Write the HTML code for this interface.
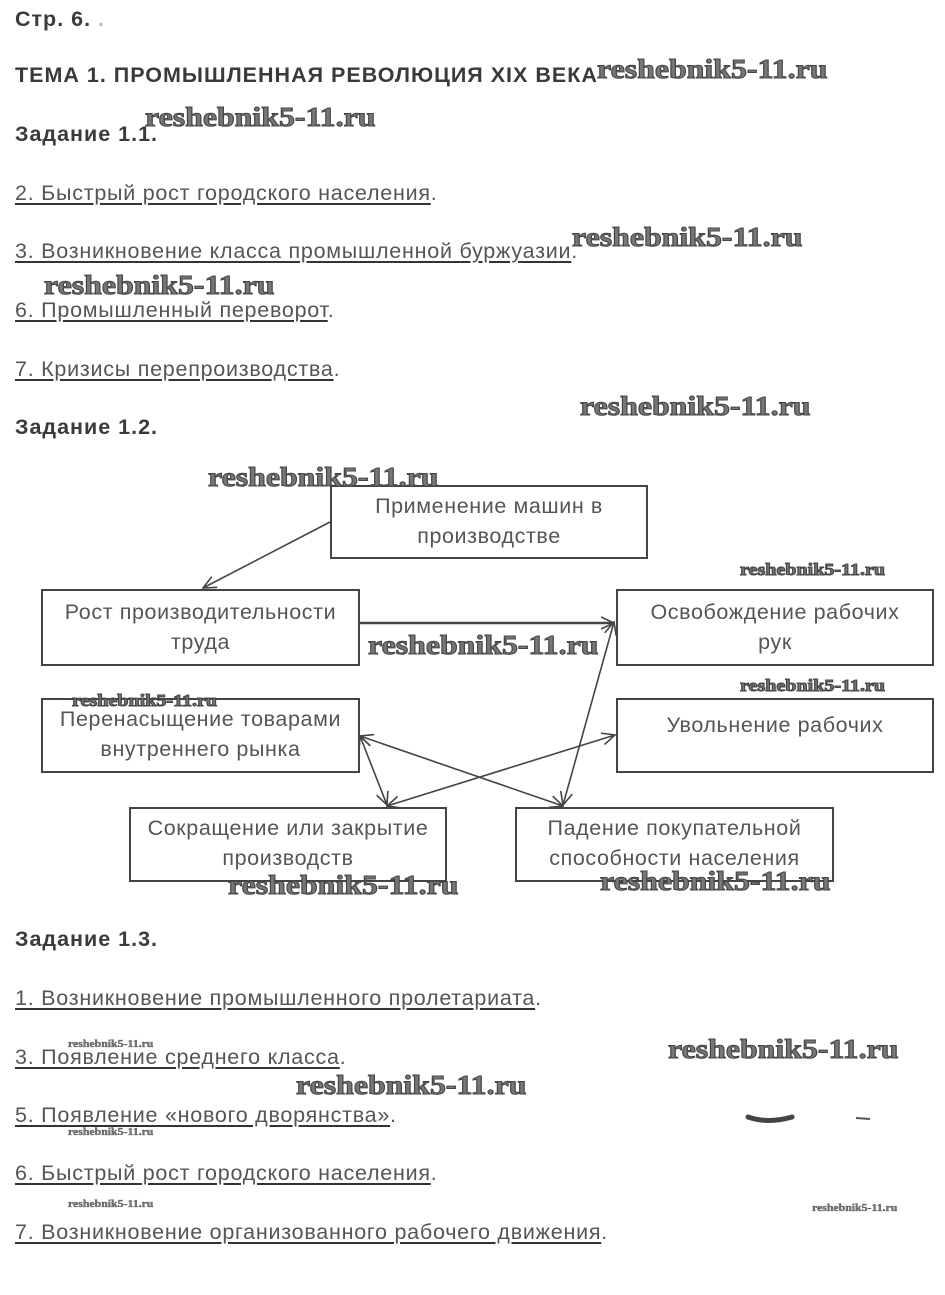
<!DOCTYPE html>
<html><head><meta charset="utf-8"><style>
html,body{margin:0;padding:0;background:#fff;width:945px;height:1295px;overflow:hidden;position:relative;font-family:"Liberation Sans",sans-serif}
.t{position:absolute;white-space:nowrap;line-height:24px}
.h{font-size:21.5px;font-weight:bold;color:#3a3a3a;letter-spacing:1px}
.l{font-size:21.5px;color:#555;letter-spacing:0.75px}
.l span{text-decoration:underline;text-decoration-color:#333;text-underline-offset:3px}
.w{position:absolute;white-space:nowrap;font-family:"Liberation Serif",serif;font-weight:bold;color:#777;-webkit-text-stroke:1px #444;line-height:1;transform:scaleX(1.18);transform-origin:0 0}
.w1{font-size:27px}
.w2{font-size:17px}
.w3{font-size:10px;-webkit-text-stroke:0.3px #444}
.box{position:absolute;border:2px solid #444;box-sizing:border-box;text-align:center;font-size:21.5px;letter-spacing:0.6px;color:#555;line-height:30px;padding-top:6px;background:#fff;white-space:nowrap}
</style></head><body>
<div class="t h" style="left:15px;top:7px">Стр. 6. <span style="color:#bbb">.</span></div>
<div class="t h" style="left:15px;top:63px">ТЕМА 1. ПРОМЫШЛЕННАЯ РЕВОЛЮЦИЯ XIX ВЕКА</div>
<div class="t h" style="left:15px;top:122px">Задание 1.1.</div>
<div class="t l" style="left:15px;top:181px"><span>2. Быстрый рост городского населения</span>.</div>
<div class="t l" style="left:15px;top:239px"><span>3. Возникновение класса промышленной буржуазии</span>.</div>
<div class="t l" style="left:15px;top:298px"><span>6. Промышленный переворот</span>.</div>
<div class="t l" style="left:15px;top:357px"><span>7. Кризисы перепроизводства</span>.</div>
<div class="t h" style="left:15px;top:415px">Задание 1.2.</div>

<svg style="position:absolute;left:0;top:0" width="945" height="1295">
<defs><marker id="a" markerWidth="14" markerHeight="14" refX="13" refY="7" orient="auto-start-reverse" markerUnits="userSpaceOnUse"><path d="M0,1 L13,7 L0,13" fill="none" stroke="#444" stroke-width="1.6"/></marker></defs>
<g stroke="#444" stroke-width="1.6" fill="none">
<line x1="330" y1="522" x2="203" y2="588" marker-end="url(#a)"/>
<line x1="359" y1="623" x2="614" y2="623" stroke-width="2.4" marker-end="url(#a)"/>
<line x1="614" y1="622" x2="563" y2="805" marker-start="url(#a)" marker-end="url(#a)"/>
<line x1="360" y1="736" x2="387" y2="805" marker-start="url(#a)" marker-end="url(#a)"/>
<line x1="360" y1="736" x2="563" y2="806" marker-start="url(#a)" marker-end="url(#a)"/>
<line x1="387" y1="806" x2="615" y2="735" marker-start="url(#a)" marker-end="url(#a)"/>
</g></svg>

<div class="box" style="left:330px;top:485px;width:318px;height:74px;padding-top:4px">Применение машин в<br>производстве</div>
<div class="box" style="left:41px;top:589px;width:319px;height:77px">Рост производительности<br>труда</div>
<div class="box" style="left:616px;top:589px;width:318px;height:77px">Освобождение рабочих<br>рук</div>
<div class="box" style="left:41px;top:698px;width:319px;height:75px;padding-top:4px">Перенасыщение товарами<br>внутреннего рынка</div>
<div class="box" style="left:616px;top:698px;width:318px;height:75px;padding-top:10px">Увольнение рабочих</div>
<div class="box" style="left:129px;top:807px;width:318px;height:75px;padding-top:4px">Сокращение или закрытие<br>производств</div>
<div class="box" style="left:515px;top:807px;width:319px;height:75px;padding-top:4px">Падение покупательной<br>способности населения</div>

<div class="t h" style="left:15px;top:927px">Задание 1.3.</div>
<div class="t l" style="left:15px;top:986px"><span>1. Возникновение промышленного пролетариата</span>.</div>
<div class="t l" style="left:15px;top:1045px"><span>3. Появление среднего класса</span>.</div>
<div class="t l" style="left:15px;top:1103px"><span>5. Появление «нового дворянства»</span>.</div>
<div class="t l" style="left:15px;top:1161px"><span>6. Быстрый рост городского населения</span>.</div>
<div class="t l" style="left:15px;top:1220px"><span>7. Возникновение организованного рабочего движения</span>.</div>

<div class="w w1" style="left:597px;top:56px">reshebnik5-11.ru</div>
<div class="w w1" style="left:145px;top:104px">reshebnik5-11.ru</div>
<div class="w w1" style="left:572px;top:224px">reshebnik5-11.ru</div>
<div class="w w1" style="left:44px;top:272px">reshebnik5-11.ru</div>
<div class="w w1" style="left:580px;top:393px">reshebnik5-11.ru</div>
<div class="w w1" style="left:208px;top:464px">reshebnik5-11.ru</div>
<div class="w w2" style="left:740px;top:561px">reshebnik5-11.ru</div>
<div class="w w1" style="left:368px;top:632px">reshebnik5-11.ru</div>
<div class="w w2" style="left:740px;top:677px">reshebnik5-11.ru</div>
<div class="w w2" style="left:72px;top:692px">reshebnik5-11.ru</div>
<div class="w w1" style="left:228px;top:872px">reshebnik5-11.ru</div>
<div class="w w1" style="left:600px;top:868px">reshebnik5-11.ru</div>
<div class="w w1" style="left:668px;top:1036px">reshebnik5-11.ru</div>
<div class="w w1" style="left:296px;top:1072px">reshebnik5-11.ru</div>
<div class="w w3" style="left:68px;top:1040px">reshebnik5-11.ru</div>
<div class="w w3" style="left:68px;top:1128px">reshebnik5-11.ru</div>
<div class="w w3" style="left:68px;top:1200px">reshebnik5-11.ru</div>
<div class="w w3" style="left:812px;top:1204px">reshebnik5-11.ru</div>
<svg style="position:absolute;left:740px;top:1110px" width="140" height="20"><path d="M8,7 Q28,14 52,7" stroke="#444" stroke-width="5" fill="none" stroke-linecap="round"/><path d="M116,8 L130,9" stroke="#555" stroke-width="2"/></svg>
</body></html>
